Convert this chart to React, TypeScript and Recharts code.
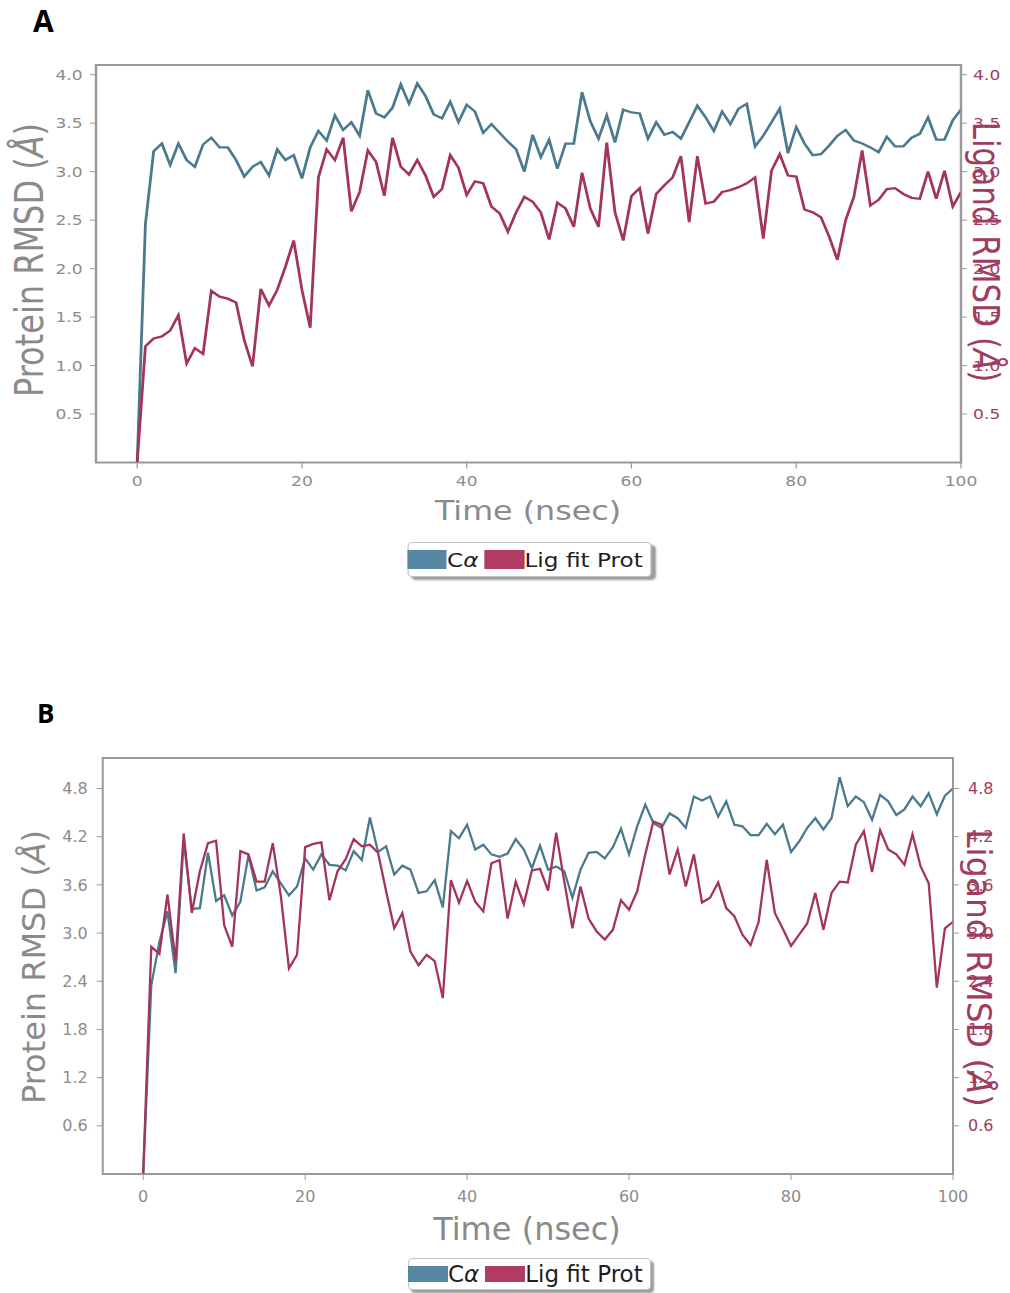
import React from 'react'
import { LineChart, Line, XAxis, YAxis, ReferenceArea, Legend } from 'recharts'

// simulation time, ns
const TIME_NS = [
  0, 1, 2, 3, 4, 5, 6, 7, 8, 9, 10, 11, 12, 13, 14, 15, 16, 17, 18, 19, 20,
  21, 22, 23, 24, 25, 26, 27, 28, 29, 30, 31, 32, 33, 34, 35, 36, 37, 38, 39, 40,
  41, 42, 43, 44, 45, 46, 47, 48, 49, 50, 51, 52, 53, 54, 55, 56, 57, 58, 59, 60,
  61, 62, 63, 64, 65, 66, 67, 68, 69, 70, 71, 72, 73, 74, 75, 76, 77, 78, 79, 80,
  81, 82, 83, 84, 85, 86, 87, 88, 89, 90, 91, 92, 93, 94, 95, 96, 97, 98, 99, 100,
]

// panel A
const A_CALPHA = [
  0.0, 2.46, 3.21, 3.29, 3.07, 3.29, 3.12, 3.05, 3.28, 3.35, 3.25, 3.25, 3.12, 2.95, 3.05, 3.1, 2.96, 3.23, 3.12, 3.17, 2.93,
  3.25, 3.42, 3.32, 3.58, 3.43, 3.51, 3.37, 3.84, 3.6, 3.56, 3.66, 3.9, 3.7, 3.91, 3.78, 3.59, 3.55, 3.72, 3.51, 3.69,
  3.62, 3.4, 3.49, 3.4, 3.31, 3.23, 3.0, 3.38, 3.15, 3.33, 3.03, 3.29, 3.29, 3.82, 3.52, 3.34, 3.58, 3.3, 3.64, 3.61,
  3.6, 3.34, 3.51, 3.38, 3.41, 3.34, 3.51, 3.68, 3.56, 3.42, 3.62, 3.49, 3.65, 3.7, 3.26, 3.37, 3.51, 3.65, 3.19, 3.46,
  3.29, 3.17, 3.18, 3.27, 3.37, 3.43, 3.32, 3.29, 3.25, 3.2, 3.36, 3.26, 3.26, 3.35, 3.39, 3.56, 3.33, 3.33, 3.53, 3.64,
]
const A_LIGAND = [
  0.0, 1.2, 1.28, 1.3, 1.36, 1.52, 1.02, 1.18, 1.12, 1.77, 1.71, 1.69, 1.65, 1.26, 0.99, 1.79, 1.62, 1.78, 2.02, 2.29, 1.78,
  1.39, 2.94, 3.23, 3.12, 3.35, 2.59, 2.79, 3.22, 3.1, 2.75, 3.35, 3.05, 2.97, 3.12, 2.96, 2.74, 2.82, 3.17, 3.04, 2.76,
  2.9, 2.88, 2.64, 2.57, 2.38, 2.58, 2.74, 2.69, 2.58, 2.3, 2.68, 2.62, 2.43, 2.99, 2.62, 2.43, 3.3, 2.58, 2.29, 2.75,
  2.83, 2.36, 2.77, 2.86, 2.94, 3.16, 2.48, 3.16, 2.67, 2.69, 2.79, 2.81, 2.84, 2.88, 2.94, 2.31, 3.01, 3.18, 2.96, 2.95,
  2.61, 2.58, 2.53, 2.33, 2.09, 2.5, 2.74, 3.22, 2.65, 2.71, 2.82, 2.83, 2.77, 2.73, 2.72, 3.0, 2.72, 3.01, 2.64, 2.79,
]

// panel B
const B_CALPHA = [
  0.0, 2.35, 2.89, 3.27, 2.5, 4.15, 3.3, 3.31, 4.0, 3.4, 3.47, 3.22, 3.39, 3.97, 3.53, 3.57, 3.77, 3.62, 3.47, 3.58, 3.93,
  3.79, 3.98, 3.85, 3.84, 3.78, 4.02, 3.91, 4.44, 4.01, 4.08, 3.73, 3.84, 3.79, 3.5, 3.52, 3.66, 3.32, 4.27, 4.18, 4.35,
  4.04, 4.1, 3.98, 3.95, 3.99, 4.17, 4.04, 3.81, 4.09, 3.79, 3.83, 3.77, 3.44, 3.79, 4.0, 4.01, 3.93, 4.07, 4.3, 3.98,
  4.33, 4.6, 4.37, 4.31, 4.49, 4.43, 4.31, 4.7, 4.65, 4.7, 4.45, 4.64, 4.35, 4.33, 4.22, 4.22, 4.36, 4.23, 4.35, 4.01,
  4.14, 4.31, 4.43, 4.29, 4.43, 4.94, 4.58, 4.7, 4.63, 4.41, 4.72, 4.64, 4.47, 4.54, 4.7, 4.58, 4.74, 4.48, 4.71, 4.8,
]
const B_LIGAND = [
  0.0, 2.83, 2.74, 3.48, 2.65, 4.24, 3.25, 3.77, 4.12, 4.15, 3.1, 2.83, 4.02, 3.98, 3.64, 3.64, 4.12, 3.46, 2.56, 2.73, 4.07,
  4.11, 4.13, 3.41, 3.77, 3.92, 4.17, 4.08, 4.1, 4.0, 3.52, 3.06, 3.25, 2.77, 2.6, 2.73, 2.65, 2.19, 3.66, 3.38, 3.65,
  3.39, 3.27, 3.87, 3.91, 3.18, 3.64, 3.36, 3.78, 3.8, 3.53, 4.25, 3.64, 3.06, 3.58, 3.18, 3.02, 2.92, 3.04, 3.41, 3.29,
  3.52, 3.98, 4.39, 4.35, 3.73, 4.04, 3.58, 3.98, 3.38, 3.44, 3.63, 3.31, 3.21, 2.98, 2.85, 3.14, 3.91, 3.25, 3.05, 2.84,
  2.98, 3.12, 3.5, 3.04, 3.5, 3.64, 3.63, 4.1, 4.27, 3.76, 4.28, 4.04, 3.98, 3.85, 4.23, 3.83, 3.62, 2.32, 3.06, 3.14,
]

const X_TICKS = [0, 20, 40, 60, 80, 100]
const A_Y_TICKS = [0.5, 1.0, 1.5, 2.0, 2.5, 3.0, 3.5, 4.0]
const B_Y_TICKS = [0.6, 1.2, 1.8, 2.4, 3.0, 3.6, 4.2, 4.8]

const LINE_BLUE = '#4b7a8e'
const LINE_RED = '#a2345e'
const SWATCH_BLUE = '#5887a3'
const SWATCH_RED = '#b23b63'
const FRAME = '#9a9a9a'
const TICK_GREY = '#8c8c8c'
const LABEL_GREY = '#8a8a8a'
const RIGHT_RED = '#a03c60'
const FONT = "'DejaVu Sans', sans-serif"

const LEFT_AXIS_W = 60
const RIGHT_AXIS_W = 40
const X_AXIS_H = 30

type PanelCfg = {
  ca: number[]
  lig: number[]
  yTicks: number[]
  yMax: number
  stretch: number
  top: number
  height: number
  frame: { left: number; right: number; top: number; bottom: number }
  tickFont: number
  tickSize: number
  xTickMargin: number
  leftTickMargin: number
  rightTickMargin: number
  leftTitle: { x: number; y: number; size: number }
  rightTitle: { x: number; y: number; size: number }
  timeTitle: { x: number; y: number; size: number }
  legend: { left: number; top: number; height: number; font: number; swW: number; swH: number }
}

function LegendBox({ lg, s }: { lg: PanelCfg['legend']; s: number }) {
  const sw = lg.swW / s
  return (
    <div
      style={{
        display: 'inline-flex',
        alignItems: 'center',
        height: lg.height,
        boxSizing: 'border-box',
        border: '1px solid #c4c4c4',
        borderRadius: 4,
        background: '#fff',
        boxShadow: '3px 3px 2px #9c9c9c',
        fontFamily: FONT,
        fontSize: lg.font,
        color: '#1e1e1e',
        paddingRight: 7 / s,
        whiteSpace: 'nowrap',
      }}
    >
      <span style={{ width: sw, height: lg.swH, background: SWATCH_BLUE, marginLeft: -1 }} />
      <span>
        C<i>α</i>
      </span>
      <span style={{ width: sw, height: lg.swH, background: SWATCH_RED, marginLeft: 6 / s }} />
      <span>Lig fit Prot</span>
    </div>
  )
}

function Panel({ cfg }: { cfg: PanelCfg }) {
  const s = cfg.stretch
  const w = 1010 / s
  const px = (x: number) => x / s
  const data = TIME_NS.map((t, i) => ({ t, ca: cfg.ca[i], lig: cfg.lig[i] }))
  const margin = {
    top: cfg.frame.top - cfg.top,
    bottom: cfg.top + cfg.height - cfg.frame.bottom - X_AXIS_H,
    left: px(cfg.frame.left) - LEFT_AXIS_W,
    right: w - px(cfg.frame.right) - RIGHT_AXIS_W,
  }
  const fmt = (v: number) => v.toFixed(1)
  const lt = cfg.leftTitle
  const rt = cfg.rightTitle
  const tt = cfg.timeTitle
  return (
    <div
      style={{
        position: 'absolute',
        left: 0,
        top: cfg.top,
        width: w,
        height: cfg.height,
        transform: `scaleX(${s})`,
        transformOrigin: '0 0',
        fontFamily: FONT,
      }}
    >
      <LineChart width={w} height={cfg.height} data={data} margin={margin}>
        <XAxis
          dataKey="t"
          type="number"
          domain={[-5, 100]}
          ticks={X_TICKS}
          allowDataOverflow
          height={X_AXIS_H}
          stroke={FRAME}
          tickSize={cfg.tickSize}
          tickMargin={cfg.xTickMargin}
          tick={{ fill: TICK_GREY, fontSize: cfg.tickFont }}
        />
        <YAxis
          yAxisId="left"
          width={LEFT_AXIS_W}
          domain={[0, cfg.yMax]}
          ticks={cfg.yTicks}
          allowDataOverflow
          stroke={FRAME}
          tickSize={cfg.tickSize / s}
          tickMargin={cfg.leftTickMargin}
          tickFormatter={fmt}
          tick={{ fill: TICK_GREY, fontSize: cfg.tickFont }}
        />
        <YAxis
          yAxisId="right"
          orientation="right"
          width={RIGHT_AXIS_W}
          domain={[0, cfg.yMax]}
          ticks={cfg.yTicks}
          allowDataOverflow
          stroke={FRAME}
          tickSize={cfg.tickSize / s}
          tickMargin={cfg.rightTickMargin}
          tickFormatter={fmt}
          tick={{ fill: RIGHT_RED, fontSize: cfg.tickFont }}
        />
        <ReferenceArea
          yAxisId="left"
          x1={-5}
          x2={100}
          y1={0}
          y2={cfg.yMax}
          fill="none"
          stroke={FRAME}
          strokeWidth={2}
          fillOpacity={0}
        />
        <Line
          yAxisId="left"
          type="linear"
          dataKey="ca"
          name="Cα"
          stroke={LINE_BLUE}
          strokeWidth={2.3}
          dot={false}
          activeDot={false}
          isAnimationActive={false}
        />
        <Line
          yAxisId="right"
          type="linear"
          dataKey="lig"
          name="Lig fit Prot"
          stroke={LINE_RED}
          strokeWidth={2.3}
          dot={false}
          activeDot={false}
          isAnimationActive={false}
        />
        <Legend
          layout="horizontal"
          verticalAlign="middle"
          align="center"
          wrapperStyle={{ left: px(cfg.legend.left), top: cfg.legend.top - cfg.top, width: 'auto', height: 'auto' }}
          content={() => <LegendBox lg={cfg.legend} s={s} />}
        />
      </LineChart>
      <svg
        width={w}
        height={cfg.height}
        style={{ position: 'absolute', left: 0, top: 0, pointerEvents: 'none', fontFamily: FONT }}
      >
        <text
          x={px(lt.x)}
          y={lt.y - cfg.top}
          transform={`rotate(-90 ${px(lt.x)} ${lt.y - cfg.top})`}
          textAnchor="middle"
          fontSize={lt.size}
          fill={LABEL_GREY}
        >
          Protein RMSD (<tspan fontStyle="italic">Å</tspan>)
        </text>
        <text
          x={px(rt.x)}
          y={rt.y - cfg.top}
          transform={`rotate(90 ${px(rt.x)} ${rt.y - cfg.top})`}
          textAnchor="middle"
          fontSize={rt.size}
          fill={RIGHT_RED}
        >
          Ligand RMSD (<tspan fontStyle="italic">Å</tspan>)
        </text>
        <text x={px(tt.x)} y={tt.y - cfg.top} textAnchor="middle" fontSize={tt.size} fill={LABEL_GREY}>
          Time (nsec)
        </text>
      </svg>
    </div>
  )
}

const PANEL_A: PanelCfg = {
  ca: A_CALPHA,
  lig: A_LIGAND,
  yTicks: A_Y_TICKS,
  yMax: 4.1,
  stretch: 1.22,
  top: 0,
  height: 600,
  frame: { left: 96, right: 961, top: 65, bottom: 462.5 },
  tickFont: 14,
  tickSize: 6,
  xTickMargin: 8,
  leftTickMargin: 6,
  rightTickMargin: 5,
  leftTitle: { x: 43, y: 260, size: 32 },
  rightTitle: { x: 973, y: 252, size: 31 },
  timeTitle: { x: 528, y: 520, size: 26 },
  legend: { left: 407, top: 542, height: 35, font: 19, swW: 40, swH: 19 },
}

const PANEL_B: PanelCfg = {
  ca: B_CALPHA,
  lig: B_LIGAND,
  yTicks: B_Y_TICKS,
  yMax: 5.18,
  stretch: 1,
  top: 640,
  height: 653,
  frame: { left: 102.7, right: 953, top: 758, bottom: 1174 },
  tickFont: 16,
  tickSize: 6,
  xTickMargin: 11,
  leftTickMargin: 9,
  rightTickMargin: 9,
  leftTitle: { x: 45, y: 967, size: 32 },
  rightTitle: { x: 967, y: 968, size: 33 },
  timeTitle: { x: 527, y: 1240, size: 32 },
  legend: { left: 408, top: 1258, height: 32, font: 23, swW: 40, swH: 16 },
}

export default function App() {
  return (
    <div
      style={{
        position: 'absolute',
        left: 0,
        top: 0,
        width: 1010,
        height: 1293,
        overflow: 'hidden',
        background: '#fff',
      }}
    >
      <Panel cfg={PANEL_A} />
      <Panel cfg={PANEL_B} />
      <svg width={1010} height={1293} style={{ position: 'absolute', left: 0, top: 0, pointerEvents: 'none' }}>
        <text x={33} y={32} fontFamily="'Open Sans', sans-serif" fontWeight={700} fontSize={30} fill="#000">
          A
        </text>
        <text x={37} y={723} fontFamily="'Open Sans', sans-serif" fontWeight={700} fontSize={26} fill="#000">
          B
        </text>
      </svg>
    </div>
  )
}
